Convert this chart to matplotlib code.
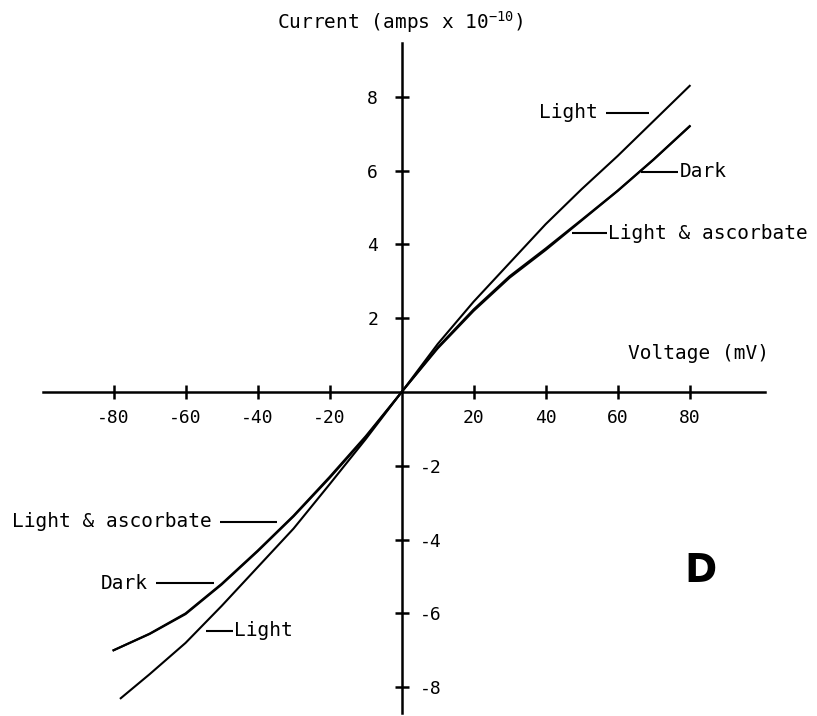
import matplotlib
matplotlib.use("Agg")
import matplotlib.pyplot as plt
from matplotlib.ticker import FixedLocator, FormatStrFormatter

# ---------------------------------------------------------------
# Data (voltage in mV, current in 1e-10 A)
# ---------------------------------------------------------------
voltage_light = [-78, -70, -60, -50, -40, -30, -20, -10, 0, 10, 20, 30, 40, 50, 60, 70, 80]
current_light = [-8.3, -7.65, -6.8, -5.8, -4.75, -3.7, -2.5, -1.28, 0.0,
                 1.3, 2.45, 3.5, 4.55, 5.5, 6.4, 7.35, 8.3]

voltage_dark = [-80, -70, -60, -50, -40, -30, -20, -10, 0, 10, 20, 30, 40, 50, 60, 70, 80]
current_dark = [-7.0, -6.55, -6.0, -5.2, -4.3, -3.35, -2.3, -1.2, 0.0,
                1.18, 2.2, 3.1, 3.85, 4.65, 5.45, 6.3, 7.2]

voltage_asc = [-80, -70, -60, -50, -40, -30, -20, -10, 0, 10, 20, 30, 40, 50, 60, 70, 80]
current_asc = [-7.0, -6.56, -6.02, -5.22, -4.32, -3.37, -2.33, -1.23, 0.0,
               1.21, 2.24, 3.14, 3.89, 4.67, 5.46, 6.31, 7.21]

x_ticks = [-80, -60, -40, -20, 20, 40, 60, 80]
y_ticks_pos = [2, 4, 6, 8]
y_ticks_neg = [-8, -6, -4, -2]

# ---------------------------------------------------------------
# Style
# ---------------------------------------------------------------
plt.rcParams['font.family'] = ['DejaVu Sans Mono']
plt.rcParams['mathtext.default'] = 'regular'
plt.rcParams['axes.unicode_minus'] = False

FONT = 14
TICK_FONT = 13
LW = 1.5

fig = plt.figure(figsize=(8.17, 7.16), dpi=100)
ax = fig.add_axes([0.0526, 0.0042, 0.8837, 0.9362])
ax.set_xlim(-99.6, 100.9)
ax.set_ylim(-8.7, 9.47)

# axes crossing at the origin
for side in ['left', 'bottom', 'right']:
    ax.spines[side].set_position(('data', 0))
ax.spines['right'].set_color('none')
ax.spines['top'].set_visible(False)
ax.spines['left'].set_linewidth(1.8)
ax.spines['bottom'].set_linewidth(1.8)

ax.xaxis.set_major_locator(FixedLocator(x_ticks))
ax.xaxis.set_major_formatter(FormatStrFormatter('%d'))
ax.yaxis.set_major_locator(FixedLocator(y_ticks_pos))
ax.yaxis.set_minor_locator(FixedLocator(y_ticks_neg))
ax.yaxis.set_major_formatter(FormatStrFormatter('%d'))
ax.yaxis.set_minor_formatter(FormatStrFormatter('%d'))

ax.tick_params(axis='x', which='major', direction='inout', length=10, width=1.8,
               top=False, labelsize=TICK_FONT, pad=7)
ax.tick_params(axis='x', which='minor', bottom=False, top=False)
ax.tick_params(axis='y', which='major', direction='inout', length=10, width=1.8,
               left=True, right=False, labelleft=True, labelright=False,
               labelsize=TICK_FONT, pad=12)
ax.tick_params(axis='y', which='minor', direction='inout', length=10, width=1.8,
               left=True, right=False, labelleft=False, labelright=True,
               labelsize=TICK_FONT, pad=8)

# curves
ax.plot(voltage_light, current_light, color='black', lw=LW)
ax.plot(voltage_dark, current_dark, color='black', lw=LW)
ax.plot(voltage_asc, current_asc, color='black', lw=LW)

# curve labels with leader dashes: (text, dash x0, dash x1, y, text side)
curve_labels = [
    ('Light', 56.8, 68.7, 7.57, 'left'),
    ('Dark', 66.6, 76.8, 5.97, 'right'),
    ('Light & ascorbate', 47.3, 56.9, 4.30, 'right'),
    ('Light & ascorbate', -50.5, -34.7, -3.51, 'left'),
    ('Dark', -68.2, -52.1, -5.18, 'left'),
    ('Light', -54.2, -46.8, -6.47, 'right'),
]
for text, x0, x1, yy, side in curve_labels:
    ax.plot([x0, x1], [yy, yy], color='black', lw=LW, solid_capstyle='butt')
    if side == 'left':
        ax.text(x0 - 2.2, yy, text, ha='right', va='center', fontsize=FONT)
    else:
        ax.text(x1 + 0.3, yy, text, ha='left', va='center', fontsize=FONT)

# axis titles
fig.text(0.4896, 0.969, 'Current (amps x 10$^{-10}$)', ha='center', va='center',
         fontsize=FONT)
ax.text(102, 1.04, 'Voltage (mV)', ha='right', va='center', fontsize=FONT,
        clip_on=False)

# panel letter
ax.text(83, -4.85, 'D', ha='center', va='center', fontsize=28,
        fontweight='bold', family='DejaVu Sans')

fig.savefig('out.png', dpi=100)
